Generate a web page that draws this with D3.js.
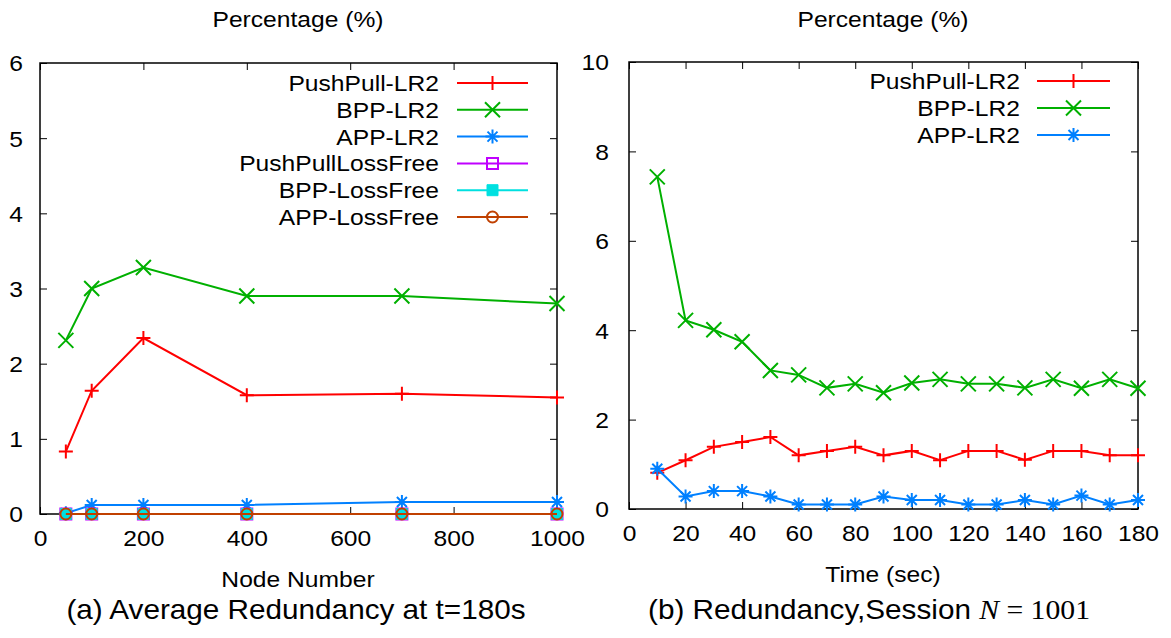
<!DOCTYPE html>
<html>
<head>
<meta charset="utf-8">
<script src="https://cdn.jsdelivr.net/npm/d3@7"></script>
<style>
  html, body { margin: 0; padding: 0; background: #fff; }
  svg { display: block; }
  text { font-family: "Liberation Sans", Arial, sans-serif; fill: #000; }
</style>
</head>
<body>
<svg id="chart" width="1171" height="638"></svg>
<script>
// ---------- Data ----------
const nodeNumbers = [50, 100, 200, 400, 700, 1000];
const pushPullLR2_a = [0.83, 1.64, 2.34, 1.58, 1.60, 1.55];
const bppLR2_a      = [2.31, 3.00, 3.28, 2.90, 2.90, 2.80];
const appLR2_a      = [0.01, 0.12, 0.12, 0.12, 0.16, 0.16];
const pushPullLossFree_a = [0, 0, 0, 0, 0, 0];
const bppLossFree_a      = [0, 0, 0, 0, 0, 0];
const appLossFree_a      = [0, 0, 0, 0, 0, 0];

const times = [10, 20, 30, 40, 50, 60, 70, 80, 90, 100, 110, 120, 130, 140, 150, 160, 170, 180];
const pushPullLR2_b = [0.81, 1.09, 1.39, 1.50, 1.61, 1.20, 1.30, 1.39, 1.20, 1.30, 1.09, 1.30, 1.30, 1.10, 1.30, 1.30, 1.20, 1.20];
const bppLR2_b      = [7.43, 4.22, 4.01, 3.74, 3.10, 3.00, 2.71, 2.80, 2.60, 2.82, 2.90, 2.80, 2.80, 2.71, 2.90, 2.70, 2.90, 2.70];
const appLR2_b      = [0.90, 0.28, 0.40, 0.40, 0.28, 0.10, 0.10, 0.10, 0.28, 0.20, 0.20, 0.10, 0.10, 0.20, 0.10, 0.30, 0.10, 0.20];

const xTicksA = [0, 200, 400, 600, 800, 1000];
const yTicksA = [0, 1, 2, 3, 4, 5, 6];
const xTicksB = [0, 20, 40, 60, 80, 100, 120, 140, 160, 180];
const yTicksB = [0, 2, 4, 6, 8, 10];

const seriesNames = ["PushPull-LR2", "BPP-LR2", "APP-LR2", "PushPullLossFree", "BPP-LossFree", "APP-LossFree"];
const seriesColors = ["#ff0000", "#00b000", "#0080ff", "#c000ff", "#00e0e0", "#c04000"];
const seriesMarkers = ["plus", "cross", "star", "square", "squareFilled", "circle"];

const titleText = "Percentage (%)";
const xTitleA = "Node Number";
const xTitleB = "Time (sec)";
const captionA = "(a) Average Redundancy at t=180s";

// ---------- Setup ----------
const SX = 1.12;   // horizontal stretch of text as in the reference
const FS = 22;
const svg = d3.select("#chart");

function label(g, x, y, s, anchor, size, sx) {
  return g.append("text")
    .attr("transform", `translate(${x},${y}) scale(${sx || SX},1)`)
    .attr("text-anchor", anchor || "middle")
    .style("font-size", (size || FS) + "px")
    .text(s);
}

const markerPaths = {
  plus: "M-7,0H7M0,-7V7",
  cross: "M-7.5,-7.5L7.5,7.5M-7.5,7.5L7.5,-7.5",
  star: "M-7,0H7M0,-7V7M-5,-5L5,5M-5,5L5,-5",
  square: "M-5.5,-5.5H5.5V5.5H-5.5Z",
  squareFilled: "M-5.5,-5.5H5.5V5.5H-5.5Z",
  circle: null
};

function drawMarker(g, type, color, x, y) {
  if (type === "circle") {
    g.append("circle").attr("cx", x).attr("cy", y).attr("r", 5.5)
      .attr("fill", "none").attr("stroke", color).attr("stroke-width", 2);
  } else if (type === "squareFilled") {
    g.append("path").attr("d", markerPaths[type]).attr("transform", `translate(${x},${y})`)
      .attr("fill", color).attr("stroke", color).attr("stroke-width", 1);
  } else {
    g.append("path").attr("d", markerPaths[type]).attr("transform", `translate(${x},${y})`)
      .attr("fill", "none").attr("stroke", color).attr("stroke-width", 2);
  }
}

function panel(cfg) {
  const g = svg.append("g");
  const x = d3.scaleLinear().domain(cfg.xDomain).range([cfg.left, cfg.right]);
  const y = d3.scaleLinear().domain(cfg.yDomain).range([cfg.bottom, cfg.top]);
  const T = 7;
  const fmt = d => String(d);

  // axes (ticks inward, mirrored)
  const bottom = g.append("g").attr("transform", `translate(0,${cfg.bottom})`)
    .call(d3.axisBottom(x).tickValues(cfg.xTicks).tickFormat(fmt).tickSizeInner(-T).tickSizeOuter(0));
  const top = g.append("g").attr("transform", `translate(0,${cfg.top})`)
    .call(d3.axisTop(x).tickValues(cfg.xTicks).tickSizeInner(-T).tickSizeOuter(0).tickFormat(""));
  const left = g.append("g").attr("transform", `translate(${cfg.left},0)`)
    .call(d3.axisLeft(y).tickValues(cfg.yTicks).tickFormat(fmt).tickSizeInner(-T).tickSizeOuter(0));
  const right = g.append("g").attr("transform", `translate(${cfg.right},0)`)
    .call(d3.axisRight(y).tickValues(cfg.yTicks).tickSizeInner(-T).tickSizeOuter(0).tickFormat(""));

  [bottom, top, left, right].forEach(a => {
    a.select(".domain").remove();
    a.selectAll(".tick line").attr("stroke", "#000").attr("stroke-width", 1);
    a.attr("font-family", null).attr("font-size", null);
  });
  bottom.selectAll(".tick text")
    .attr("x", null).attr("y", null).attr("dy", null)
    .attr("transform", `translate(0,${cfg.xLabelOff}) scale(${SX},1)`)
    .style("font-size", FS + "px").attr("fill", "#000");
  left.selectAll(".tick text")
    .attr("x", null).attr("dy", "0.36em")
    .attr("transform", `translate(${-cfg.yLabelOff},0) scale(${SX},1)`)
    .attr("text-anchor", "end")
    .style("font-size", FS + "px").attr("fill", "#000");

  // frame
  g.append("rect").attr("x", cfg.left).attr("y", cfg.top)
    .attr("width", cfg.right - cfg.left).attr("height", cfg.bottom - cfg.top)
    .attr("fill", "none").attr("stroke", "#000").attr("stroke-width", 1.5);

  // series
  const line = d3.line().x(d => x(d[0])).y(d => y(d[1]));
  cfg.series.forEach((vals, i) => {
    const pts = cfg.xs.map((xv, k) => [xv, vals[k]]);
    const sg = g.append("g");
    sg.append("path").datum(pts).attr("d", line)
      .attr("fill", "none").attr("stroke", seriesColors[i]).attr("stroke-width", 2);
    pts.forEach(p => drawMarker(sg, seriesMarkers[i], seriesColors[i], x(p[0]), y(p[1])));
  });

  // legend
  cfg.series.forEach((vals, i) => {
    const ly = cfg.legendTop + i * cfg.legendStep;
    const lg = g.append("g");
    label(lg, cfg.legendTextX, ly, seriesNames[i], "end").attr("dy", "0.36em");
    lg.append("line").attr("x1", cfg.legendLineX1).attr("x2", cfg.legendLineX2)
      .attr("y1", ly).attr("y2", ly).attr("stroke", seriesColors[i]).attr("stroke-width", 2);
    drawMarker(lg, seriesMarkers[i], seriesColors[i], (cfg.legendLineX1 + cfg.legendLineX2) / 2, ly);
  });

  // titles
  label(g, cfg.titleX, 27, titleText, "middle");
  label(g, cfg.titleX, cfg.xTitleY, cfg.xTitle, "middle");
}

panel({
  left: 40, right: 557, top: 63, bottom: 514,
  xDomain: [0, 1000], yDomain: [0, 6],
  xTicks: xTicksA, yTicks: yTicksA,
  xLabelOff: 32, yLabelOff: 17,
  xs: nodeNumbers,
  series: [pushPullLR2_a, bppLR2_a, appLR2_a, pushPullLossFree_a, bppLossFree_a, appLossFree_a],
  legendTop: 83, legendStep: 26.8, legendTextX: 439, legendLineX1: 457, legendLineX2: 528,
  titleX: 298, xTitle: xTitleA, xTitleY: 587
});

panel({
  left: 629, right: 1138, top: 62, bottom: 509,
  xDomain: [0, 180], yDomain: [0, 10],
  xTicks: xTicksB, yTicks: yTicksB,
  xLabelOff: 32, yLabelOff: 20,
  xs: times,
  series: [pushPullLR2_b, bppLR2_b, appLR2_b],
  legendTop: 81, legendStep: 27, legendTextX: 1020, legendLineX1: 1037, legendLineX2: 1110,
  titleX: 883, xTitle: xTitleB, xTitleY: 582
});

// captions
const CS = 27;
label(svg, 296, 619, captionA, "middle", CS, 1.1);
const cb = svg.append("text")
  .attr("transform", `translate(869,619) scale(1.1,1)`)
  .attr("text-anchor", "middle")
  .style("font-size", CS + "px");
cb.append("tspan").text("(b) Redundancy,Session ");
cb.append("tspan").style("font-family", "'Liberation Serif', 'DejaVu Serif', serif").style("font-style", "italic").text("N");
cb.append("tspan").style("font-family", "'Liberation Serif', 'DejaVu Serif', serif").text(" = 1001");
</script>
</body>
</html>
